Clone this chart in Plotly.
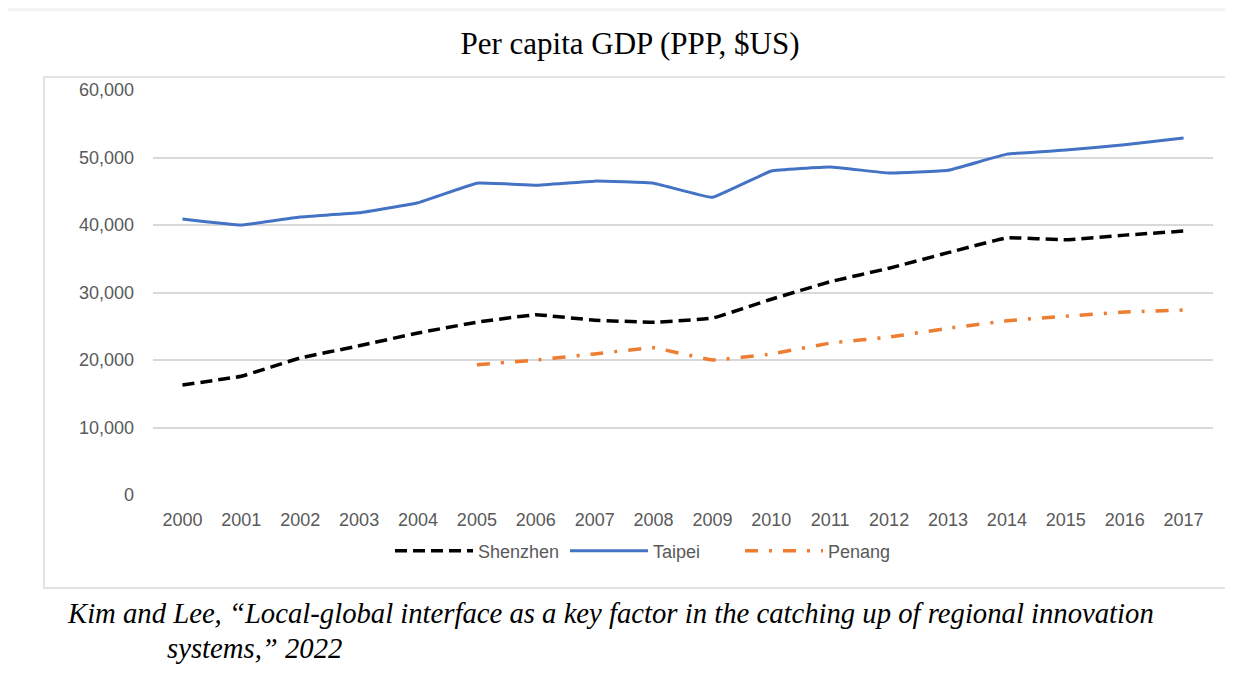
import plotly.graph_objects as go

years = list(range(2000, 2018))
shenzhen = [16300, 17600, 20300, 22100, 24000, 25600, 26700, 25900, 25600, 26200,
            29000, 31600, 33600, 35900, 38100, 37800, 38500, 39100]
taipei = [40900, 40000, 41200, 41800, 43300, 46200, 45900, 46500, 46200, 44100,
          48000, 48600, 47700, 48100, 50500, 51100, 51900, 52900]
penang_years = list(range(2005, 2018))
penang = [19300, 20000, 20900, 21800, 20000, 20900, 22500, 23400, 24700, 25800,
          26500, 27100, 27400]
y_ticks = [0, 10000, 20000, 30000, 40000, 50000, 60000]
y_labels = ["0", "10,000", "20,000", "30,000", "40,000", "50,000", "60,000"]

W, H = 1217, 666
L, R, T, B = 145, 12, 82, 179
PW, PH = W - L - R, H - T - B

def px(x):
    return (x - L) / PW

def py(y):
    return (T + PH - y) / PH

fig = go.Figure()
fig.add_trace(go.Scatter(x=years, y=shenzhen, name="Shenzhen", mode="lines",
                         line=dict(color="#000000", width=3.5, dash="12px,6px", shape="spline", smoothing=0.25)))
fig.add_trace(go.Scatter(x=years, y=taipei, name="Taipei", mode="lines",
                         line=dict(color="#4472C4", width=3, shape="spline", smoothing=0.25)))
fig.add_trace(go.Scatter(x=penang_years, y=penang, name="Penang", mode="lines",
                         line=dict(color="#ED7D31", width=3.5, dash="13px,11px,3px,11px", shape="spline", smoothing=0.25)))

fig.update_layout(
    width=W, height=H,
    margin=dict(l=L, r=R, t=T, b=B),
    paper_bgcolor="white", plot_bgcolor="white",
    title=dict(text="Per capita GDP (PPP, $US)", x=622 / W, xanchor="center", y=1 - 35 / H, yanchor="middle",
               font=dict(family="Liberation Serif", size=31, color="#000000")),
    xaxis=dict(range=[1999.5, 2017.5], tickmode="array", tickvals=years,
               ticktext=[str(y) for y in years], showgrid=False, zeroline=False,
               showline=False, ticks="", ticklabelstandoff=12,
               tickfont=dict(family="Liberation Sans", size=18, color="#595959")),
    yaxis=dict(range=[0, 60000], tickmode="array", tickvals=y_ticks, ticktext=y_labels,
               showgrid=True, gridcolor="#d9d9d9", gridwidth=1.5, zeroline=False, showline=False,
               ticks="", ticklabelstandoff=18,
               tickfont=dict(family="Liberation Sans", size=18, color="#595959")),
    legend=dict(orientation="h", x=px(382), xanchor="left", y=py(543), yanchor="middle",
                font=dict(family="Liberation Sans", size=18, color="#595959"),
                itemwidth=78, entrywidth=82, entrywidthmode="pixels", traceorder="normal"),
    showlegend=True,
)

fig.add_shape(type="rect", xref="paper", yref="paper",
              x0=px(36), x1=px(1221), y0=py(580), y1=py(69),
              line=dict(color="#d9d9d9", width=1.5), fillcolor="rgba(0,0,0,0)", layer="below")
fig.add_shape(type="rect", xref="paper", yref="paper",
              x0=px(0), x1=px(W), y0=py(3), y1=py(0),
              line=dict(width=0), fillcolor="#f4f4f4", layer="below")

fig.add_annotation(text="<i>Kim and Lee, \u201cLocal-global interface as a key factor in the catching up of regional innovation</i>",
                   xref="paper", yref="paper", x=px(57), xanchor="left",
                   y=py(605), yanchor="middle", showarrow=False,
                   font=dict(family="Liberation Serif", size=28.7, color="#000000"))
fig.add_annotation(text="<i>systems,\u201d 2022</i>",
                   xref="paper", yref="paper", x=px(157), xanchor="left",
                   y=py(640), yanchor="middle", showarrow=False,
                   font=dict(family="Liberation Serif", size=28.7, color="#000000"))

fig.write_html("out.html")
